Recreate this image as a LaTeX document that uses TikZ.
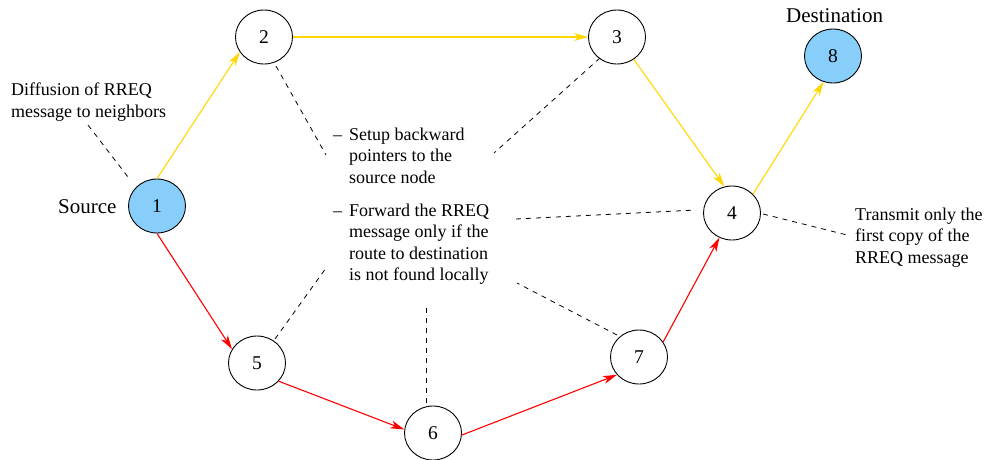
\documentclass[tikz,border=0pt]{standalone}
\usepackage{fontspec}
\setmainfont{Liberation Serif}
\usetikzlibrary{arrows.meta,shapes.geometric}
\definecolor{skyfill}{HTML}{87CEFA}
\definecolor{goldline}{HTML}{FFD700}
\definecolor{redline}{HTML}{FF0000}
\begin{document}
\begin{tikzpicture}[x=1pt,y=-1pt,
  every node/.style={inner sep=0pt},
  peer/.style={ellipse,draw,line width=0.9pt,minimum width=57pt,minimum height=54pt,
    font=\fontsize{19.5}{19.5}\selectfont},
  endpoint/.style={peer,fill=skyfill},
  flood/.style={draw=goldline,line width=1.1pt,-{Stealth[length=14pt,width=8pt,inset=4pt]}},
  route/.style={draw=redline,line width=1.1pt,-{Stealth[length=14pt,width=8pt,inset=4pt]}},
  callout/.style={dash pattern=on 5pt off 5pt,line width=0.8pt},
  % multi-line notes are anchored at the baseline of their last line
  note/.style={font=\fontsize{18}{21.5}\selectfont,align=left,anchor=base west},
  tag/.style={font=\fontsize{21}{21}\selectfont,anchor=base west}
]
\useasboundingbox (0,0) rectangle (987,459);

% nodes
\node[endpoint] (n1) at (157,206) {1};
\node[peer]     (n2) at (264,37)  {2};
\node[peer]     (n3) at (617,37)  {3};
\node[peer]     (n4) at (732,213) {4};
\node[peer]     (n5) at (257,363) {5};
\node[peer]     (n6) at (433,433) {6};
\node[peer]     (n7) at (639,357) {7};
\node[endpoint] (n8) at (833,56)  {8};

% labels
\node[tag] (src) at (58,213) {Source};
\node[tag] (dst) at (786,22) {Destination};
\node[note] (diff) at (11,117) {Diffusion of RREQ\\message to neighbors};
\node[note] (dashA) at (333,140) {--};
\node[note] (setup) at (349,183) {Setup backward\\pointers to the\\source node};
\node[note] (dashB) at (333,216) {--};
\node[note] (fwd) at (349,280.5) {Forward the RREQ\\message only if the\\route to destination\\is not found locally};
\node[note] (xmit) at (855,263) {Transmit only the\\first copy of the\\RREQ message};

% RREQ flooding (yellow) and reverse path (red)
\draw[flood] (n1.north) -- (n2.212);
\draw[flood] (n2.east) -- (n3.west);
\draw[flood] (n3.307) -- (n4.106);
\draw[flood] (n4.42) -- (n8.250);
\draw[route] (n1.south) -- (n5.151);
\draw[route] (n5.320) -- (n6.173);
\draw[route] (n6.356) -- (n7.219);
\draw[route] (n7.32) -- (n4.243);

% callout leaders
\coordinate (a1) at (88,125);  \coordinate (a2) at (128,177);
\coordinate (b1) at (276,66);  \coordinate (b2) at (326,155);
\coordinate (c1) at (600,58);  \coordinate (c2) at (494,153);
\coordinate (d1) at (516,219); \coordinate (d2) at (696,210);
\coordinate (e1) at (763,214); \coordinate (e2) at (847,235);
\coordinate (f1) at (275,339); \coordinate (f2) at (326,268);
\coordinate (g1) at (426,308); \coordinate (g2) at (426,407);
\coordinate (h1) at (617,335); \coordinate (h2) at (517,283);
\draw[callout] (a1) -- (a2);
\draw[callout] (b1) -- (b2);
\draw[callout] (c1) -- (c2);
\draw[callout] (d1) -- (d2);
\draw[callout] (e1) -- (e2);
\draw[callout] (f1) -- (f2);
\draw[callout] (g1) -- (g2);
\draw[callout] (h1) -- (h2);
\end{tikzpicture}
\end{document}
